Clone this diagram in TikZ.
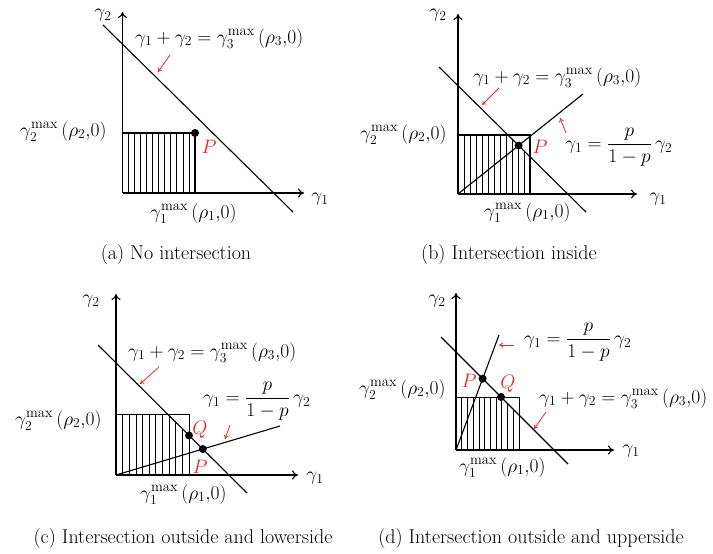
\RequirePackage{fix-cm}
\documentclass[tikz,border=0pt]{standalone}
\usepackage{amsmath}
\usetikzlibrary{arrows.meta,calc}
\definecolor{myred}{RGB}{232,38,38}
\newcommand\mymax{\mbox{\fontsize{14.5}{14.5}\selectfont max}}
\tikzset{
  axis/.style={line width=1.1pt,-{To[length=6pt,width=9pt]}},
  lim/.style={line width=1.1pt},
  box/.style={line width=1.3pt},
  thinbox/.style={line width=0.9pt},
  hatch/.style={line width=0.8pt},
  redarrow/.style={draw=myred,line width=0.8pt,-{To[length=4pt,width=5pt]}},
  dot/.style={circle,fill=black,inner sep=0pt,minimum size=8pt},
  lab/.style={font=\fontsize{19.5}{23}\selectfont,inner sep=0pt},
  captext/.style={font=\fontsize{20}{24}\selectfont,inner sep=0pt},
  redlab/.style={lab,text=myred},
}
% #1 x0, #2 y bottom, #3 x1, #4 y top, #5 number of lines, #6 #7 diagonal ends, #8 outline style
\newcommand\hatchbox[8]{%
  \begin{scope}
    \clip (#6) -- (#7) -- ($(#7)+(0,200)$) -- ($(#6)+(-200,200)$) -- cycle;
    \foreach \i in {1,...,#5}{\draw[hatch] ({#1+(#3-#1)*\i/(#5+1)},#2) -- ({#1+(#3-#1)*\i/(#5+1)},#4);}
  \end{scope}
  \draw[#8] (#1,#4) -- (#3,#4) -- (#3,#2);
  \draw[box] (#1,#2) -- (#3,#2);
}
\begin{document}
\begin{tikzpicture}[x=1pt,y=-1pt]
\useasboundingbox (0,0) rectangle (713,554);
% ---------------- (a)
\coordinate (Oa) at (122.5,193);
\coordinate (La1) at (103,25); \coordinate (La2) at (293,212);
\hatchbox{122.5}{193}{195}{133}{11}{La1}{La2}{box}
\draw[axis] (Oa) -- (122.5,12) coordinate (Ya);
\draw[axis] (Oa) -- (304,193) coordinate (Xa);
\draw[lim] (La1) -- (La2);
\node[dot] (Pa) at (195,133) {};
\node[redlab] (Pla) at (209,147) {$P$};
\node[lab] (g2a) at (103,15) {$\gamma_2$};
\node[lab] (g1a) at (320,199) {$\gamma_1$};
\node[lab,anchor=base west] (eqa) at (135,43) {$\gamma_1 + \gamma_2 = \gamma_3^{\mymax}\,(\rho_3{,}0)$};
\node[lab,anchor=base west] (m2a) at (20,136) {$\gamma_2^{\mymax}\,(\rho_2{,}0)$};
\node[lab,anchor=base west] (m1a) at (150,218) {$\gamma_1^{\mymax}\,(\rho_1{,}0)$};
\coordinate (ra1) at (170,55); \coordinate (ra2) at (158,72);
\draw[redarrow] (ra1) -- (ra2);
\node[captext] (capa) at (176,255) {(a) No intersection};
% ---------------- (b)
\coordinate (Ob) at (458,194);
\coordinate (Lb1) at (439,67); \coordinate (Lb2) at (586,212);
\hatchbox{458}{194}{530}{135}{11}{Lb1}{Lb2}{box}
\draw[axis] (Ob) -- (458,14) coordinate (Yb);
\draw[axis] (Ob) -- (637,194) coordinate (Xb);
\draw[lim] (Lb1) -- (Lb2);
\coordinate (Kb) at (583,94);
\draw[lim] (Ob) -- (Kb);
\node[dot] (Pb) at (intersection of Lb1--Lb2 and Ob--Kb) {};
\node[redlab] (Plb) at (540,147) {$P$};
\node[lab] (g2b) at (438,15) {$\gamma_2$};
\node[lab] (g1b) at (658,199) {$\gamma_1$};
\node[lab,anchor=base west] (eqb) at (473,82) {$\gamma_1 + \gamma_2 = \gamma_3^{\mymax}\,(\rho_3{,}0)$};
\node[lab,anchor=west] (frb) at (565,147) {$\gamma_1 = \dfrac{p}{1-p}\,\gamma_2$};
\node[lab,anchor=base west] (m2b) at (360,139) {$\gamma_2^{\mymax}\,(\rho_2{,}0)$};
\node[lab,anchor=base west] (m1b) at (484,217) {$\gamma_1^{\mymax}\,(\rho_1{,}0)$};
\coordinate (rb1) at (499,88); \coordinate (rb2) at (482,105);
\draw[redarrow] (rb1) -- (rb2);
\coordinate (rb3) at (566,133); \coordinate (rb4) at (560,118);
\draw[redarrow] (rb3) -- (rb4);
\node[captext] (capb) at (509,255) {(b) Intersection inside};
% ---------------- (c)
\coordinate (Oc) at (116,475);
\coordinate (Lc1) at (98,345); \coordinate (Lc2) at (247,493);
\hatchbox{116}{475}{189}{414}{10}{Lc1}{Lc2}{thinbox}
\draw[axis] (Oc) -- (116,294) coordinate (Yc);
\draw[axis] (Oc) -- (298,475) coordinate (Xc);
\draw[lim] (Lc1) -- (Lc2);
\coordinate (Kc) at (280,426);
\draw[lim] (Oc) -- (Kc);
\node[dot] (Qc) at (intersection of Lc1--Lc2 and 189,400--189,480) {};
\node[dot] (Pc) at (intersection of Lc1--Lc2 and Oc--Kc) {};
\node[redlab] (Qlc) at (200,430) {$Q$};
\node[redlab] (Plc) at (200,467) {$P$};
\node[lab] (g2c) at (91,301) {$\gamma_2$};
\node[lab] (g1c) at (315,478) {$\gamma_1$};
\node[lab,anchor=base west] (eqc) at (128,357) {$\gamma_1 + \gamma_2 = \gamma_3^{\mymax}\,(\rho_3{,}0)$};
\node[lab,anchor=west] (frc) at (203,401) {$\gamma_1 = \dfrac{p}{1-p}\,\gamma_2$};
\node[lab,anchor=base west] (m2c) at (15,425) {$\gamma_2^{\mymax}\,(\rho_2{,}0)$};
\node[lab,anchor=base west] (m1c) at (140,499) {$\gamma_1^{\mymax}\,(\rho_1{,}0)$};
\coordinate (rc1) at (159,367); \coordinate (rc2) at (140,384);
\draw[redarrow] (rc1) -- (rc2);
\coordinate (rc3) at (230,425); \coordinate (rc4) at (225,439);
\draw[redarrow] (rc3) -- (rc4);
\node[captext] (capc) at (183,539) {(c) Intersection outside and lowerside};
% ---------------- (d)
\coordinate (Od) at (456,450);
\coordinate (Ld1) at (441,337); \coordinate (Ld2) at (568,464);
\hatchbox{456}{450}{519}{397}{10}{Ld1}{Ld2}{thinbox}
\draw[axis] (Od) -- (456,293) coordinate (Yd);
\draw[axis] (Od) -- (614,450) coordinate (Xd);
\draw[lim] (Ld1) -- (Ld2);
\coordinate (Kd) at (499,335);
\draw[lim] (Od) -- (Kd);
\node[dot] (Pd) at (intersection of Ld1--Ld2 and Od--Kd) {};
\node[dot] (Qd) at (intersection of Ld1--Ld2 and 440,397--530,397) {};
\node[redlab] (Pld) at (469,381) {$P$};
\node[redlab] (Qld) at (508,384) {$Q$};
\node[lab] (g2d) at (437,301) {$\gamma_2$};
\node[lab] (g1d) at (631,451) {$\gamma_1$};
\node[lab,anchor=west] (frd) at (524,342) {$\gamma_1 = \dfrac{p}{1-p}\,\gamma_2$};
\node[lab,anchor=base west] (eqd) at (539,403) {$\gamma_1 + \gamma_2 = \gamma_3^{\mymax}\,(\rho_3{,}0)$};
\node[lab,anchor=base west] (m2d) at (359,394) {$\gamma_2^{\mymax}\,(\rho_2{,}0)$};
\node[lab,anchor=base west] (m1d) at (459,472) {$\gamma_1^{\mymax}\,(\rho_1{,}0)$};
\coordinate (rd1) at (514,345); \coordinate (rd2) at (499,345);
\draw[redarrow] (rd1) -- (rd2);
\coordinate (rd3) at (546,412); \coordinate (rd4) at (534,429);
\draw[redarrow] (rd3) -- (rd4);
\node[captext] (capd) at (531,539) {(d) Intersection outside and upperside};
\end{tikzpicture}
\end{document}
